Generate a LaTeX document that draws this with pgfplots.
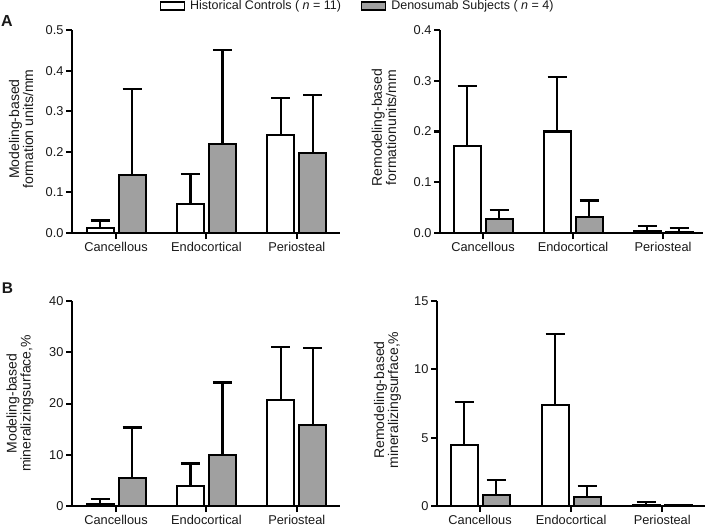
\documentclass[border=0pt]{standalone}
\usepackage{fontspec}
\setmainfont{Liberation Sans}
\usepackage{pgfplots}
\pgfplotsset{compat=1.18}
\definecolor{bargray}{RGB}{160,160,160}
\definecolor{txt}{RGB}{25,25,25}
\pgfplotsset{
 panel/.style={
   scale only axis,
   axis x line*=bottom, axis y line*=left,
   axis line style={line width=2pt,-,black},
   tick align=outside,
   major tick length=6pt,
   tick style={line width=2pt,black},
   xtick={0,1,2},
   xticklabels={Cancellous,Endocortical,Periosteal},
   minor tick num=0,
   ymin=0,
   ybar, bar width=27pt,
   xticklabel style={font=\fontsize{12.8}{14}\selectfont, text=txt},
   yticklabel style={font=\fontsize{12.8}{14}\selectfont, text=txt, xshift=1pt},
   /pgf/number format/assume math mode=true,
   ylabel style={font=\fontsize{14}{12.5}\selectfont, align=center, anchor=center, text=txt},
   every axis plot/.append style={line width=2pt, draw=black},
   error bars/y dir=plus, error bars/y explicit,
   error bars/error bar style={line width=2.2pt,black,solid},
   error bars/error mark options={rotate=90, mark size=9.5pt, line width=2.2pt, black, solid},
   clip=false,
 },
 wbar/.style={fill=white, bar shift=-16pt,
   legend image code/.code={\draw[line width=1.3pt, fill=white] (0pt,-4pt) rectangle (24pt,4pt);}},
 gbar/.style={fill=bargray, bar shift=16pt,
   legend image code/.code={\draw[line width=1.3pt, fill=bargray] (0pt,-4pt) rectangle (24pt,4pt);}},
}
\begin{document}
\begin{tikzpicture}
\path[use as bounding box] (0pt,0pt) rectangle (709pt,528pt);
% Panel A left
\begin{axis}[panel, at={(72pt,295pt)}, anchor=south west, width=268pt, height=203pt,
  xmin=-0.487, xmax=2.478, ymax=0.5, ytick={0,0.1,...,0.5},
  yticklabel style={/pgf/number format/.cd, fixed, fixed zerofill, precision=1},
  ylabel={Modeling-based\\formation units/mm},
  ylabel style={at={(axis description cs:-0.19,0.512)}},
  legend style={at={(axis description cs:1.066,1.118)}, anchor=center, draw=none, fill=none,
    legend columns=2, font=\fontsize{12.5}{14}\selectfont, text=txt,
    /tikz/every odd column/.append style={column sep=3pt},
    /tikz/every even column/.append style={column sep=18pt}},
  legend cell align=left]
\addplot[wbar] coordinates {(0,0.012) +- (0,0.019) (1,0.072) +- (0,0.073) (2,0.242) +- (0,0.090)};
\addplot[gbar] coordinates {(0,0.144) +- (0,0.210) (1,0.220) +- (0,0.231) (2,0.197) +- (0,0.142)};
\legend{Historical Controls ( \textit{n} = 11),Denosumab Subjects ( \textit{n} = 4)}
\end{axis}
% Panel A right
\begin{axis}[panel, at={(440pt,295pt)}, anchor=south west, width=263pt, height=203pt,
  xmin=-0.478, xmax=2.444, ymax=0.4, ytick={0,0.1,...,0.4},
  yticklabel style={/pgf/number format/.cd, fixed, fixed zerofill, precision=1},
  ylabel={Remodeling-based\\formationunits/mm},
  ylabel style={at={(axis description cs:-0.213,0.52)}}]
\addplot[wbar] coordinates {(0,0.172) +- (0,0.117) (1,0.200) +- (0,0.107) (2,0.004) +- (0,0.010)};
\addplot[gbar] coordinates {(0,0.027) +- (0,0.019) (1,0.031) +- (0,0.033) (2,0.002) +- (0,0.008)};
\end{axis}
% Panel B left
\begin{axis}[panel, at={(72pt,22pt)}, anchor=south west, width=268pt, height=205pt,
  xmin=-0.487, xmax=2.478, ymax=40, ytick={0,10,...,40},
  ylabel={Modeling-based\\mineralizingsurface,\%},
  ylabel style={at={(axis description cs:-0.194,0.5)}}]
\addplot[wbar] coordinates {(0,0.45) +- (0,0.95) (1,3.9) +- (0,4.4) (2,20.6) +- (0,10.4)};
\addplot[gbar] coordinates {(0,5.4) +- (0,9.9) (1,10.0) +- (0,14.1) (2,15.8) +- (0,15.0)};
\end{axis}
% Panel B right
\begin{axis}[panel, at={(437pt,22pt)}, anchor=south west, width=268pt, height=205pt,
  xmin=-0.473, xmax=2.47, ymax=15, ytick={0,5,10,15},
  ylabel={Remodeling-based\\mineralizingsurface,\%},
  ylabel style={at={(axis description cs:-0.185,0.517)}}]
\addplot[wbar] coordinates {(0,4.45) +- (0,3.17) (1,7.38) +- (0,5.2) (2,0.08) +- (0,0.22)};
\addplot[gbar] coordinates {(0,0.83) +- (0,1.05) (1,0.68) +- (0,0.81) (2,0.05) +- (0,0.03)};
\end{axis}
\node[font=\bfseries\fontsize{16}{16}\selectfont, text=txt] at (7pt,507pt) {A};
\node[font=\bfseries\fontsize{15.5}{16}\selectfont, text=txt] at (7.5pt,240pt) {B};
\end{tikzpicture}
\end{document}
